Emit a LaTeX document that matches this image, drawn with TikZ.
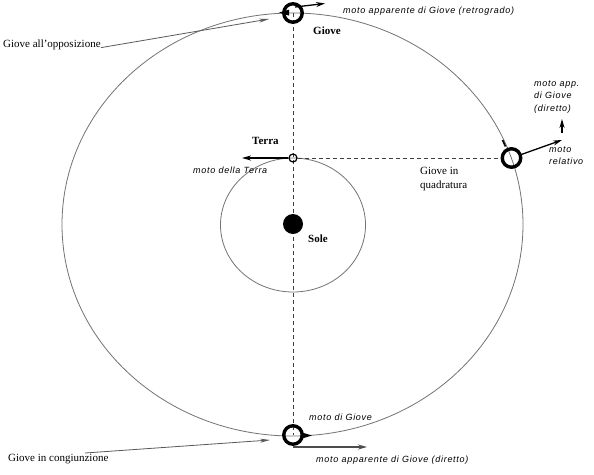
\documentclass[tikz,border=0pt]{standalone}
\usepackage{fontspec}
\setmainfont{Liberation Serif}
\newfontfamily\itsans[LetterSpace=8]{Liberation Sans}
\usetikzlibrary{arrows.meta,backgrounds}
\begin{document}
\begin{tikzpicture}[x=1pt,y=-1pt,
  orbit/.style={draw=black!55, line width=0.8pt},
  guide/.style={draw=black!75, line width=0.8pt, dash pattern=on 4pt off 3pt},
  planet/.style={circle, draw=black, line width=3.4pt, minimum size=18.5pt, inner sep=0pt},
  earth/.style={circle, draw=black, line width=1.2pt, minimum size=8pt, inner sep=0pt},
  sun/.style={circle, fill=black, minimum size=20pt, inner sep=0pt},
  lbl/.style={font=\fontsize{11}{14}\selectfont, inner sep=0pt},
  blbl/.style={font=\fontsize{11}{13}\selectfont\bfseries, inner sep=0pt},
  ilbl/.style={font=\fontsize{9}{12.5}\selectfont\itsans\itshape, inner sep=0pt},
  mot/.style={-{Stealth[length=9pt,width=5pt]}, line width=1.3pt},
  motg/.style={-{Stealth[length=9pt,width=5pt]}, draw=black!70, line width=1.4pt},
  ptr/.style={-{Stealth[length=10pt,width=4pt]}, draw=black!65, line width=0.8pt},
  tip/.style={fill=black},
]
\useasboundingbox (0,0) rectangle (594,474);

% bodies
\node[sun] (sole) at (293,224) {};
\node[earth] (terra) at (293,158) {};
\node[planet] (gopp) at (293,13) {};
\node[planet] (gcong) at (293,435) {};
\node[planet] (gquad) at (511.5,158) {};

\begin{pgfonlayer}{background}
  \fill[white] (0,0) rectangle (594,474);
  \draw[orbit] (292.5,224.5) ellipse [x radius=230.5, y radius=211.5];
  \draw[orbit] (293,225) ellipse [x radius=72.5, y radius=67];
  \draw[guide] (gopp.center) -- (gcong.center);
  \draw[guide] (terra) -- (gquad);
\end{pgfonlayer}

% orbit direction tips
\fill[tip] (279,12.6) -- (289,9.6) -- (289,15.6) -- cycle;
\fill[tip] (312,435.5) -- (302,432.5) -- (302,438.5) -- cycle;
\draw[line width=1.6pt] (502.5,140) -- (505.5,146.5);

% labels
\node[blbl, anchor=west] (lgiove) at (313,31) {Giove};
\node[blbl, anchor=west] (lterra) at (252,141) {Terra};
\node[blbl, anchor=west] (lsole) at (308,239) {Sole};
\node[ilbl, anchor=west] (lmterra) at (193,170) {moto della Terra};
\node[lbl, anchor=north west, align=left] (lquad) at (420,167) {Giove in\\quadratura};
\node[ilbl, anchor=north west, align=left] (lappd) at (534,80) {moto app.\\di Giove\\(diretto)};
\node[ilbl, anchor=north west, align=left] (lrel) at (549,146) {moto\\relativo};
\node[ilbl, anchor=west] (lretro) at (343,11) {moto apparente di Giove (retrogrado)};
\node[ilbl, anchor=west] (lmgiove) at (309,417) {moto di Giove};
\node[ilbl, anchor=west] (ldir) at (316,460) {moto apparente di Giove (diretto)};
\node[lbl, anchor=west] (opp) at (3,45) {Giove all’opposizione};
\node[lbl, anchor=west] (cong) at (8,459) {Giove in congiunzione};

% coordinates for free ends
\coordinate (retroS) at (295,7);
\coordinate (retroT) at (325,3.5);
\coordinate (dirS) at (293,447);
\coordinate (dirT) at (367,447);
\coordinate (terraT) at (242,158);
\coordinate (relT) at (562,140);
\coordinate (appS) at (562,133);
\coordinate (appT) at (562,119);
\coordinate (oppT) at (269,19);
\coordinate (congS) at (85,453);
\coordinate (congT) at (270,440);

% motion arrows
\draw[mot] (retroS) -- (retroT);
\draw[motg] (dirS) -- (dirT);
\draw[mot, line width=1.6pt] (terra) -- (terraT);
\draw[mot] (gquad) -- (relT);
\draw[mot] (appS) -- (appT);

% pointers
\draw[ptr] (opp.base east) -- (oppT);
\draw[ptr] (congS) -- (congT);
\end{tikzpicture}
\end{document}
